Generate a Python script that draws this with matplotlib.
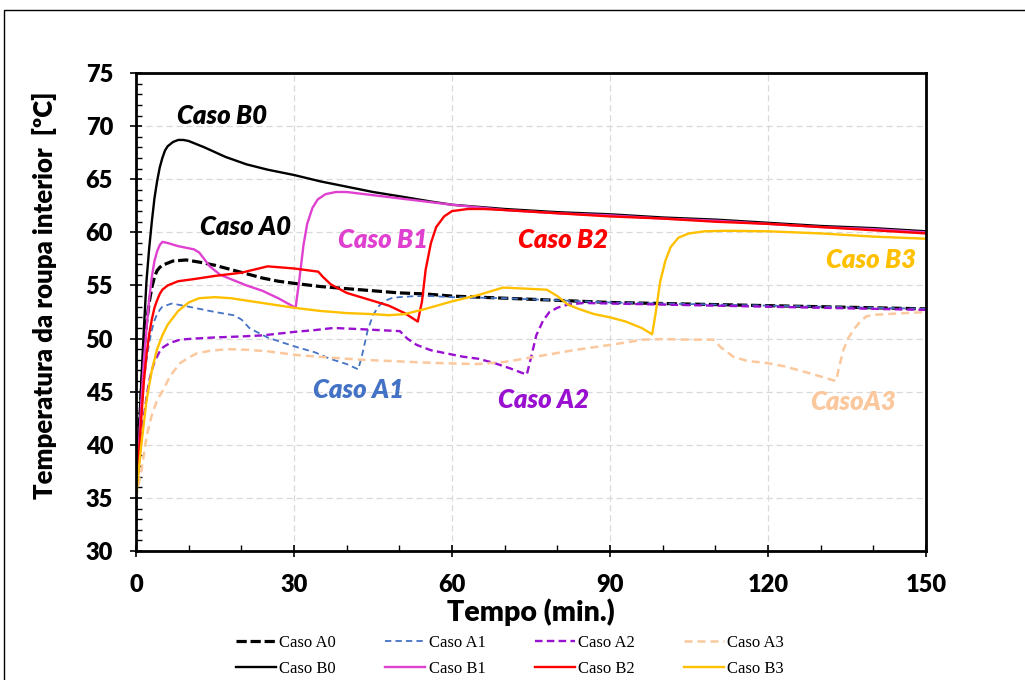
import matplotlib
matplotlib.use("Agg")
from matplotlib import pyplot as plt
from matplotlib.patches import Rectangle
from matplotlib.ticker import MultipleLocator

# Caso A0 .. A3 (dashed) and Caso B0 .. B3 (solid), temperature vs time

t_a0 = [0, 0.5, 1, 1.5, 2, 2.5, 3, 3.5, 4, 4.5, 5, 6, 7, 9.5, 12, 15, 18, 21, 24, 27, 30, 35, 40, 45, 50, 55, 60, 70, 80, 90, 100, 110, 120, 130, 140, 150]
T_a0 = [35, 40.5, 45, 48.8, 51.5, 53.4, 54.8, 55.8, 56.4, 56.7, 56.9, 57.1, 57.3, 57.4, 57.2, 56.9, 56.5, 56.1, 55.7, 55.4, 55.2, 54.9, 54.7, 54.5, 54.3, 54.2, 54.0, 53.8, 53.6, 53.4, 53.3, 53.2, 53.1, 53.0, 52.9, 52.8]

t_a1 = [0, 0.5, 1, 1.5, 2, 2.5, 3, 3.5, 4, 4.5, 5, 6.8, 9, 11.5, 15, 18.5, 20, 21.5, 23, 25, 28, 30.5, 34, 36.8, 40, 42.2, 43, 44, 45, 46, 47, 48.5, 50, 53, 56, 60, 70, 80, 90, 100, 110, 120, 130, 140, 150]
T_a1 = [35, 39, 43, 46, 48, 49.6, 50.8, 51.7, 52.3, 52.7, 53.0, 53.3, 53.1, 52.85, 52.5, 52.2, 51.8, 51.0, 50.6, 50.1, 49.6, 49.2, 48.7, 48.1, 47.6, 47.1, 48.6, 50.8, 52.2, 53.0, 53.5, 53.8, 53.9, 54.0, 54.0, 53.9, 53.8, 53.6, 53.4, 53.3, 53.2, 53.1, 53.0, 52.9, 52.8]

t_a2 = [0, 0.5, 1, 1.5, 2, 2.5, 3, 3.5, 4, 4.5, 5.2, 6.5, 8.4, 11, 14.7, 20, 24, 30.5, 34, 37.5, 42, 46, 50.1, 51.5, 53.3, 56, 59, 62, 65, 68, 71, 74.2, 75, 76, 77.3, 78.5, 80, 82, 85, 90, 100, 110, 120, 130, 140, 150]
T_a2 = [35, 38, 40.5, 42.7, 44.5, 46, 47, 47.8, 48.3, 48.8, 49.2, 49.6, 49.9, 50.0, 50.1, 50.2, 50.3, 50.65, 50.8, 51.0, 50.9, 50.8, 50.7, 50.0, 49.4, 48.9, 48.6, 48.3, 48.1, 47.7, 47.2, 46.6, 48.2, 50.3, 51.7, 52.5, 52.9, 53.2, 53.35, 53.3, 53.2, 53.1, 53.0, 52.9, 52.8, 52.7]

t_a3 = [0, 1, 2, 3, 4, 5.2, 6.5, 8.4, 10, 11.5, 14, 17.2, 21, 25, 30.5, 37, 43, 50, 57, 64.7, 70, 76, 83, 90, 96.3, 100, 105, 109.6, 111, 113.4, 116, 119.7, 123, 126, 129.5, 132.9, 133.6, 134.3, 135.2, 136.2, 137.5, 138.7, 140.5, 142.5, 146, 150]
T_a3 = [35, 37.5, 40.8, 42.8, 44.2, 45.2, 46.5, 47.7, 48.2, 48.6, 48.85, 49.0, 48.95, 48.8, 48.45, 48.2, 48.0, 47.85, 47.7, 47.6, 47.8, 48.3, 48.9, 49.4, 49.9, 49.95, 49.9, 49.9, 49.2, 48.3, 47.9, 47.7, 47.4, 47.0, 46.5, 46.0, 47.5, 48.9, 50.0, 50.8, 51.6, 52.1, 52.25, 52.3, 52.4, 52.5]

t_b0 = [0, 0.5, 1, 1.5, 2, 2.5, 3, 3.5, 4, 4.5, 5, 5.5, 6, 7, 8, 9, 10, 11.5, 13, 17, 21, 25, 30, 35, 40, 45, 50, 56, 60, 70, 80, 90, 100, 110, 120, 130, 140, 150]
T_b0 = [35, 40, 46, 51, 55.5, 58.5, 61, 63.2, 64.8, 66.1, 67, 67.7, 68.1, 68.5, 68.7, 68.7, 68.6, 68.3, 68.0, 67.1, 66.4, 65.9, 65.4, 64.8, 64.3, 63.8, 63.4, 62.9, 62.6, 62.2, 61.9, 61.7, 61.4, 61.2, 60.9, 60.6, 60.4, 60.1]

t_b1 = [0, 0.5, 1, 1.5, 2, 2.5, 3, 3.5, 4, 4.5, 5, 6, 8, 11, 12, 14, 16, 18, 21, 24, 27, 30.3, 31, 31.8, 32.5, 33.5, 34.5, 36, 38, 40, 45, 50, 60, 70, 80, 90, 100, 110, 120, 130, 140, 150]
T_b1 = [35, 39.5, 44, 48, 51, 53.7, 55.8, 57.3, 58.2, 58.8, 59.1, 59.0, 58.7, 58.4, 58.1, 56.8, 56.0, 55.6, 55.0, 54.5, 53.8, 52.9, 55.5, 58.8, 60.8, 62.3, 63.1, 63.6, 63.8, 63.8, 63.5, 63.2, 62.6, 62.1, 61.8, 61.6, 61.3, 61.1, 60.8, 60.5, 60.3, 60.0]

t_b2 = [0, 0.5, 1, 1.5, 2, 2.5, 3, 3.5, 4, 4.5, 5, 6, 8, 11, 15, 20, 25, 30, 34.6, 35.5, 37, 40, 44, 48, 51, 53.5, 54.3, 55, 56, 57, 58.5, 60, 63, 66, 70, 80, 90, 100, 110, 120, 130, 140, 150]
T_b2 = [35, 38.7, 42.5, 46, 48.5, 50.4, 51.8, 52.9, 53.6, 54.2, 54.6, 55.0, 55.4, 55.6, 55.9, 56.2, 56.8, 56.6, 56.3, 55.8, 55.1, 54.3, 53.7, 53.1, 52.4, 51.6, 53.5, 56.5, 59.0, 60.5, 61.5, 62.0, 62.2, 62.2, 62.1, 61.8, 61.5, 61.3, 61.0, 60.8, 60.5, 60.2, 59.9]

t_b3 = [0, 1, 2, 3, 4, 5, 6, 8, 10, 12, 15, 18, 22, 26, 30, 35, 40, 45, 48, 51, 55, 60, 65, 69.7, 74, 78, 80, 82, 84, 87, 90, 93, 96, 98, 98.7, 99.5, 100.5, 101.5, 103, 105, 108, 112, 120, 130, 140, 150]
T_b3 = [35, 40, 44.2, 47, 49, 50.3, 51.3, 52.6, 53.4, 53.8, 53.9, 53.8, 53.5, 53.2, 52.9, 52.6, 52.4, 52.3, 52.2, 52.3, 52.8, 53.5, 54.1, 54.8, 54.7, 54.6, 54.0, 53.2, 52.8, 52.3, 52.0, 51.6, 51.0, 50.4, 52.5, 55.3, 57.3, 58.6, 59.5, 59.9, 60.1, 60.15, 60.1, 59.9, 59.6, 59.4]

c_black = "#000000"
c_blue = "#4472C4"
c_purple = "#9A10D0"
c_peach = "#FBC89E"
c_pink = "#E040D0"
c_red = "#FF0000"
c_gold = "#FFC000"

fig = plt.figure(figsize=(10.25, 6.8), dpi=100)
ax = fig.add_axes([0.1327, 0.1897, 0.7707, 0.7029])

# A cases dashed, B cases solid
ax.plot(t_a0, T_a0, color=c_black, linewidth=2.3, dashes=(3.2, 1.2), label="Caso A0")
ax.plot(t_b0, T_b0, color=c_black, linewidth=1.7, label="Caso B0")
ax.plot(t_a1, T_a1, color=c_blue, linewidth=1.3, dashes=(3.5, 2.3), label="Caso A1")
ax.plot(t_b1, T_b1, color=c_pink, linewidth=1.7, label="Caso B1")
ax.plot(t_a2, T_a2, color=c_purple, linewidth=1.7, dashes=(3.2, 1.8), label="Caso A2")
ax.plot(t_b2, T_b2, color=c_red, linewidth=1.7, label="Caso B2")
ax.plot(t_a3, T_a3, color=c_peach, linewidth=1.8, dashes=(3.2, 2.0), label="Caso A3")
ax.plot(t_b3, T_b3, color=c_gold, linewidth=1.7, label="Caso B3")

ax.set_xlim(0, 150)
ax.set_ylim(30, 75)
ax.xaxis.set_major_locator(MultipleLocator(30))
ax.xaxis.set_minor_locator(MultipleLocator(10))
ax.yaxis.set_major_locator(MultipleLocator(5))
ax.yaxis.set_minor_locator(MultipleLocator(1))
ax.grid(True, which="major", color="#D9D9D9", linestyle=(0, (5, 3)), linewidth=0.9)
ax.set_axisbelow(True)

for s in ax.spines.values():
	s.set_linewidth(2.0)

ax.tick_params(which="major", direction="inout", length=9, width=1.2, pad=12,
	labelsize=17)
ax.tick_params(which="minor", direction="in", length=4, width=1.0)
for lab in ax.get_xticklabels() + ax.get_yticklabels():
	lab.set_fontfamily("Lato")
	lab.set_fontweight("heavy")

ax.set_xlabel("Tempo (min.)", fontsize=20.5, fontweight="heavy", family="Lato", labelpad=2)
ax.set_ylabel("Temperatura da roupa interior  [ºC]", fontsize=18.5, fontweight="heavy",
	family="Lato")
ax.yaxis.set_label_coords(-0.1, 0.535)

# curve labels
lbl = dict(fontsize=18.5, fontweight="heavy", fontstyle="italic", family="Lato", va="center")
ax.text(7.8, 71.0, "Caso B0", color=c_black, **lbl)
ax.text(12.2, 60.5, "Caso A0", color=c_black, **lbl)
ax.text(38.4, 59.3, "Caso B1", color=c_pink, **lbl)
ax.text(72.5, 59.3, "Caso B2", color=c_red, **lbl)
ax.text(131, 57.4, "Caso B3", color=c_gold, **lbl)
ax.text(33.6, 45.2, "Caso A1", color=c_blue, **lbl)
ax.text(68.7, 44.2, "Caso A2", color=c_purple, **lbl)
ax.text(128, 44.0, "CasoA3", color=c_peach, **lbl)

fig.legend(loc="upper center", bbox_to_anchor=(0.4975, 0.076), ncol=4, frameon=False,
	prop={"family": "Liberation Serif", "size": 12}, handlelength=2.4,
	handletextpad=0.2, columnspacing=2.95, labelspacing=0.6, borderaxespad=0)

# outer chart border
fig.patches.append(Rectangle((4 / 1025, -0.1), 1.2, 1.1 - 10 / 680, transform=fig.transFigure,
	fill=False, edgecolor="black", linewidth=1.0, clip_on=False))

fig.savefig("out.png", dpi=100)
